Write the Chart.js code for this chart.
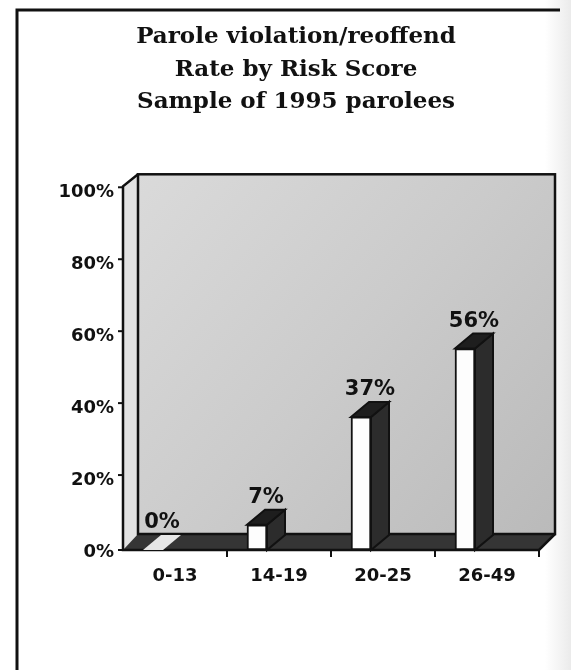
<!DOCTYPE html>
<html>
<head>
<meta charset="utf-8">
<script src="https://cdn.jsdelivr.net/npm/chart.js@4.4.1/dist/chart.umd.min.js"></script>
<style>
  html, body { margin: 0; padding: 0; background: #ffffff; }
  #wrap { width: 571px; height: 670px; position: relative; }
</style>
</head>
<body>
<div id="wrap"><canvas id="chart" width="571" height="670"></canvas></div>
<script>
// Chart text and data
const titleLines = ['Parole violation/reoffend', 'Rate by Risk Score', 'Sample of 1995 parolees'];
const categories = ['0-13', '14-19', '20-25', '26-49'];
const rates = [0, 7, 37, 56];
const yTickValues = [0, 20, 40, 60, 80, 100];

// 3D look: bars stand mid-depth inside the box, so their front faces sit
// BAR_SHIFT px left of the category centres marked on the front floor edge.
const BAR_SHIFT = 22;
const BAR_DEPTH = { dx: 18, dy: -15 };
const FLOOR_DEPTH = { dx: 15, dy: -16 };
const WALL_TOP_RISE = -12;

const labelFont = { family: 'DejaVu Sans', size: 18, weight: 'bold' };

const outerFrame = {
  id: 'outerFrame',
  beforeDraw(chart) {
    const ctx = chart.ctx;
    ctx.save();
    ctx.fillStyle = '#ffffff';
    ctx.fillRect(0, 0, chart.width, chart.height);
    // faint grey along the right-hand edge of the sheet
    const edge = ctx.createLinearGradient(545, 0, chart.width, 0);
    edge.addColorStop(0, 'rgba(120,120,120,0)');
    edge.addColorStop(1, 'rgba(120,120,120,0.15)');
    ctx.fillStyle = edge;
    ctx.fillRect(545, 0, chart.width - 545, chart.height);
    ctx.strokeStyle = '#111';
    ctx.lineWidth = 3;
    ctx.beginPath();
    ctx.moveTo(17, chart.height);
    ctx.lineTo(17, 10);
    ctx.lineTo(560, 10);
    ctx.stroke();
    ctx.restore();
  }
};

const box3d = {
  id: 'box3d',
  afterLayout(chart) {
    // move the category pixel range left so bar fronts sit in front of mid-depth
    const xs = chart.scales.x;
    xs.left -= BAR_SHIFT;
    xs.right -= BAR_SHIFT;
    xs.configure();
  },
  beforeDatasetsDraw(chart) {
    const ctx = chart.ctx;
    const { left, right, bottom } = chart.chartArea;
    const yScale = chart.scales.y;
    const xScale = chart.scales.x;
    const fl = left;
    const fr = right;
    const axisTop = yScale.getPixelForValue(100) - 4;
    const bl = fl + FLOOR_DEPTH.dx;
    const br = fr + FLOOR_DEPTH.dx + 1;
    const bb = bottom + FLOOR_DEPTH.dy;
    const bt = axisTop + WALL_TOP_RISE;

    ctx.save();
    // back wall
    const g = ctx.createLinearGradient(bl, bt, br, bb);
    g.addColorStop(0, '#dadada');
    g.addColorStop(0.5, '#cbcbcb');
    g.addColorStop(1, '#bababa');
    ctx.fillStyle = g;
    ctx.fillRect(bl, bt, br - bl, bb - bt);

    // left side wall
    ctx.fillStyle = '#e2e2e2';
    ctx.beginPath();
    ctx.moveTo(fl, axisTop);
    ctx.lineTo(bl, bt);
    ctx.lineTo(bl, bb);
    ctx.lineTo(fl, bottom);
    ctx.closePath();
    ctx.fill();

    // floor
    ctx.fillStyle = '#353535';
    ctx.beginPath();
    ctx.moveTo(fl, bottom);
    ctx.lineTo(bl, bb);
    ctx.lineTo(br, bb);
    ctx.lineTo(fr, bottom);
    ctx.closePath();
    ctx.fill();

    // back wall outline
    ctx.strokeStyle = '#111';
    ctx.lineWidth = 2.5;
    ctx.strokeRect(bl, bt, br - bl, bb - bt);

    // front axis lines
    ctx.beginPath();
    ctx.moveTo(bl, bt);
    ctx.lineTo(fl, axisTop);
    ctx.lineTo(fl, bottom);
    ctx.lineTo(fr, bottom);
    ctx.lineTo(br, bb);
    ctx.stroke();

    // y tick marks
    ctx.lineWidth = 2;
    yTickValues.forEach(v => {
      const y = yScale.getPixelForValue(v) - (v === 0 ? 0 : 3);
      ctx.beginPath();
      ctx.moveTo(fl - 5, y);
      ctx.lineTo(fl, y);
      ctx.stroke();
    });

    // x tick marks on the category boundaries of the front edge
    const step = xScale.getPixelForValue(1) - xScale.getPixelForValue(0);
    for (let i = 0; i < categories.length; i++) {
      const x = xScale.getPixelForValue(i) + BAR_SHIFT + step / 2;
      ctx.beginPath();
      ctx.moveTo(x, bottom);
      ctx.lineTo(x, bottom + 7);
      ctx.stroke();
    }
    ctx.restore();
  },
  afterDatasetsDraw(chart) {
    const ctx = chart.ctx;
    const meta = chart.getDatasetMeta(0);
    ctx.save();
    ctx.lineWidth = 2;
    ctx.strokeStyle = '#111';
    meta.data.forEach((bar, i) => {
      const { x, y, base, width } = bar.getProps(['x', 'y', 'base', 'width'], true);
      const x0 = x - width / 2;
      const x1 = x + width / 2;
      const { dx, dy } = BAR_DEPTH;
      // side face
      if (base - y > 0.5) {
        ctx.fillStyle = '#2c2c2c';
        ctx.beginPath();
        ctx.moveTo(x1, y);
        ctx.lineTo(x1 + dx, y + dy);
        ctx.lineTo(x1 + dx, base + dy);
        ctx.lineTo(x1, base);
        ctx.closePath();
        ctx.fill();
        ctx.stroke();
      }
      // top face
      ctx.fillStyle = rates[i] > 0 ? '#1e1e1e' : '#e6e6e6';
      ctx.beginPath();
      ctx.moveTo(x0, y);
      ctx.lineTo(x0 + dx, y + dy);
      ctx.lineTo(x1 + dx, y + dy);
      ctx.lineTo(x1, y);
      ctx.closePath();
      ctx.fill();
      if (rates[i] > 0) ctx.stroke();

      // value label
      ctx.fillStyle = '#111';
      ctx.font = 'bold 21px "DejaVu Sans"';
      ctx.textAlign = 'center';
      ctx.textBaseline = 'middle';
      ctx.fillText(rates[i] + '%', x + 9, y + dy - 12);
    });
    ctx.restore();
  }
};

new Chart(document.getElementById('chart'), {
  type: 'bar',
  data: {
    labels: categories,
    datasets: [{
      data: rates,
      backgroundColor: '#fdfdfd',
      borderColor: '#111',
      borderWidth: 2,
      borderSkipped: false,
      barThickness: 20
    }]
  },
  options: {
    responsive: false,
    animation: false,
    layout: { padding: { left: 53, right: 32, top: 0, bottom: 0 } },
    plugins: {
      legend: { display: false },
      tooltip: { enabled: false },
      title: {
        display: true,
        text: titleLines,
        color: '#111',
        font: { family: 'DejaVu Serif', size: 23, weight: 'bold', lineHeight: 1.41 },
        padding: { top: 21, bottom: 72 }
      }
    },
    scales: {
      x: {
        grid: { display: false, drawTicks: false },
        border: { display: false },
        ticks: { labelOffset: BAR_SHIFT, padding: 16, color: '#111', font: labelFont },
        afterFit(scale) { scale.height = 120; }
      },
      y: {
        min: 0,
        max: 100,
        afterBuildTicks(scale) { scale.ticks = yTickValues.map(v => ({ value: v })); },
        grid: { display: false, drawTicks: false },
        border: { display: false },
        ticks: { padding: 9, labelOffset: 2, color: '#111', font: labelFont, callback: v => v + '%' },
        afterFit(scale) { scale.width = 70; }
      }
    }
  },
  plugins: [outerFrame, box3d]
});
</script>
</body>
</html>
